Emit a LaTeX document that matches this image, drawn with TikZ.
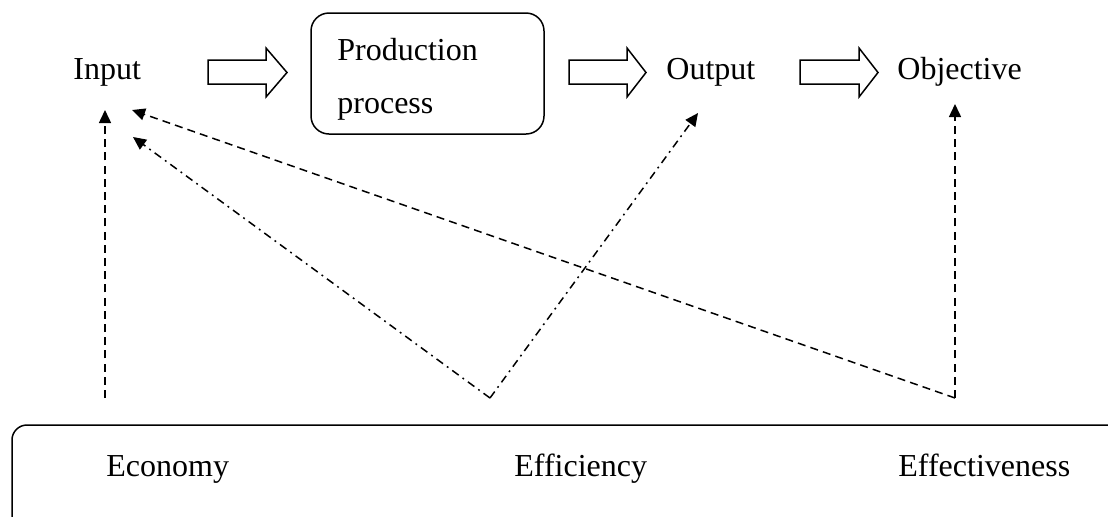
\documentclass[tikz,border=0pt]{standalone}
\usepackage{fontspec}
\setmainfont{Liberation Serif}
\usetikzlibrary{arrows.meta}
\newcommand\blockarr[3]{%
  \draw[blk] (#1,60) -- (#2,60) -- (#2,48) -- (#3,72.5) -- (#2,97) -- (#2,84) -- (#1,84) -- cycle;}
\begin{document}
\begin{tikzpicture}[x=0.5pt,y=-0.5pt,
  font=\fontsize{16}{19}\selectfont,
  lbl/.style={inner sep=0pt, anchor=base west},
  blk/.style={draw, line width=0.75pt, line join=miter},
  boxstyle/.style={draw, line width=0.75pt, rounded corners=9pt},
  tip/.style={-{Triangle[length=6.5pt,width=6pt]}},
  dsh/.style={line width=0.75pt, dash pattern=on 4pt off 2.6pt, tip},
  dsd/.style={line width=0.75pt, dash pattern=on 4pt off 2.4pt on 0.9pt off 2.4pt, tip}]
\useasboundingbox (0,0) rectangle (1108,516);
\clip (0,0) rectangle (1108,516);

% top row
\node[lbl] (input) at (73,79) {Input};
\blockarr{208}{266}{287}
\draw[boxstyle] (311,13) rectangle (544,134);
\node[lbl] (prod1) at (337,60) {Production};
\node[lbl] (prod2) at (337,113) {process};
\blockarr{569}{627}{646}
\node[lbl] (output) at (666,79) {Output};
\blockarr{800}{859}{878}
\node[lbl] (objective) at (897,79) {Objective};

% bottom box
\draw[line width=0.75pt, rounded corners=7.5pt] (12,425) rectangle (1130,540);
\node[lbl] (economy) at (106,476) {Economy};
\node[lbl] (efficiency) at (514,476) {Efficiency};
\node[lbl] (effect) at (898,476) {Effectiveness};

% connector points
\coordinate (ecoS) at (105,398);
\coordinate (ecoT) at (105,110);
\coordinate (effS) at (490,398);
\coordinate (inT1) at (132,110);
\coordinate (inT2) at (133,137);
\coordinate (outT) at (698,113);
\coordinate (fvS) at (955,398);
\coordinate (objT) at (955,104);

\draw[dsh] (ecoS) -- (ecoT);
\draw[dsh] (fvS) -- (inT1);
\draw[dsh] (fvS) -- (objT);
\draw[dsd] (effS) -- (inT2);
\draw[dsd] (effS) -- (outT);
\end{tikzpicture}
\end{document}
